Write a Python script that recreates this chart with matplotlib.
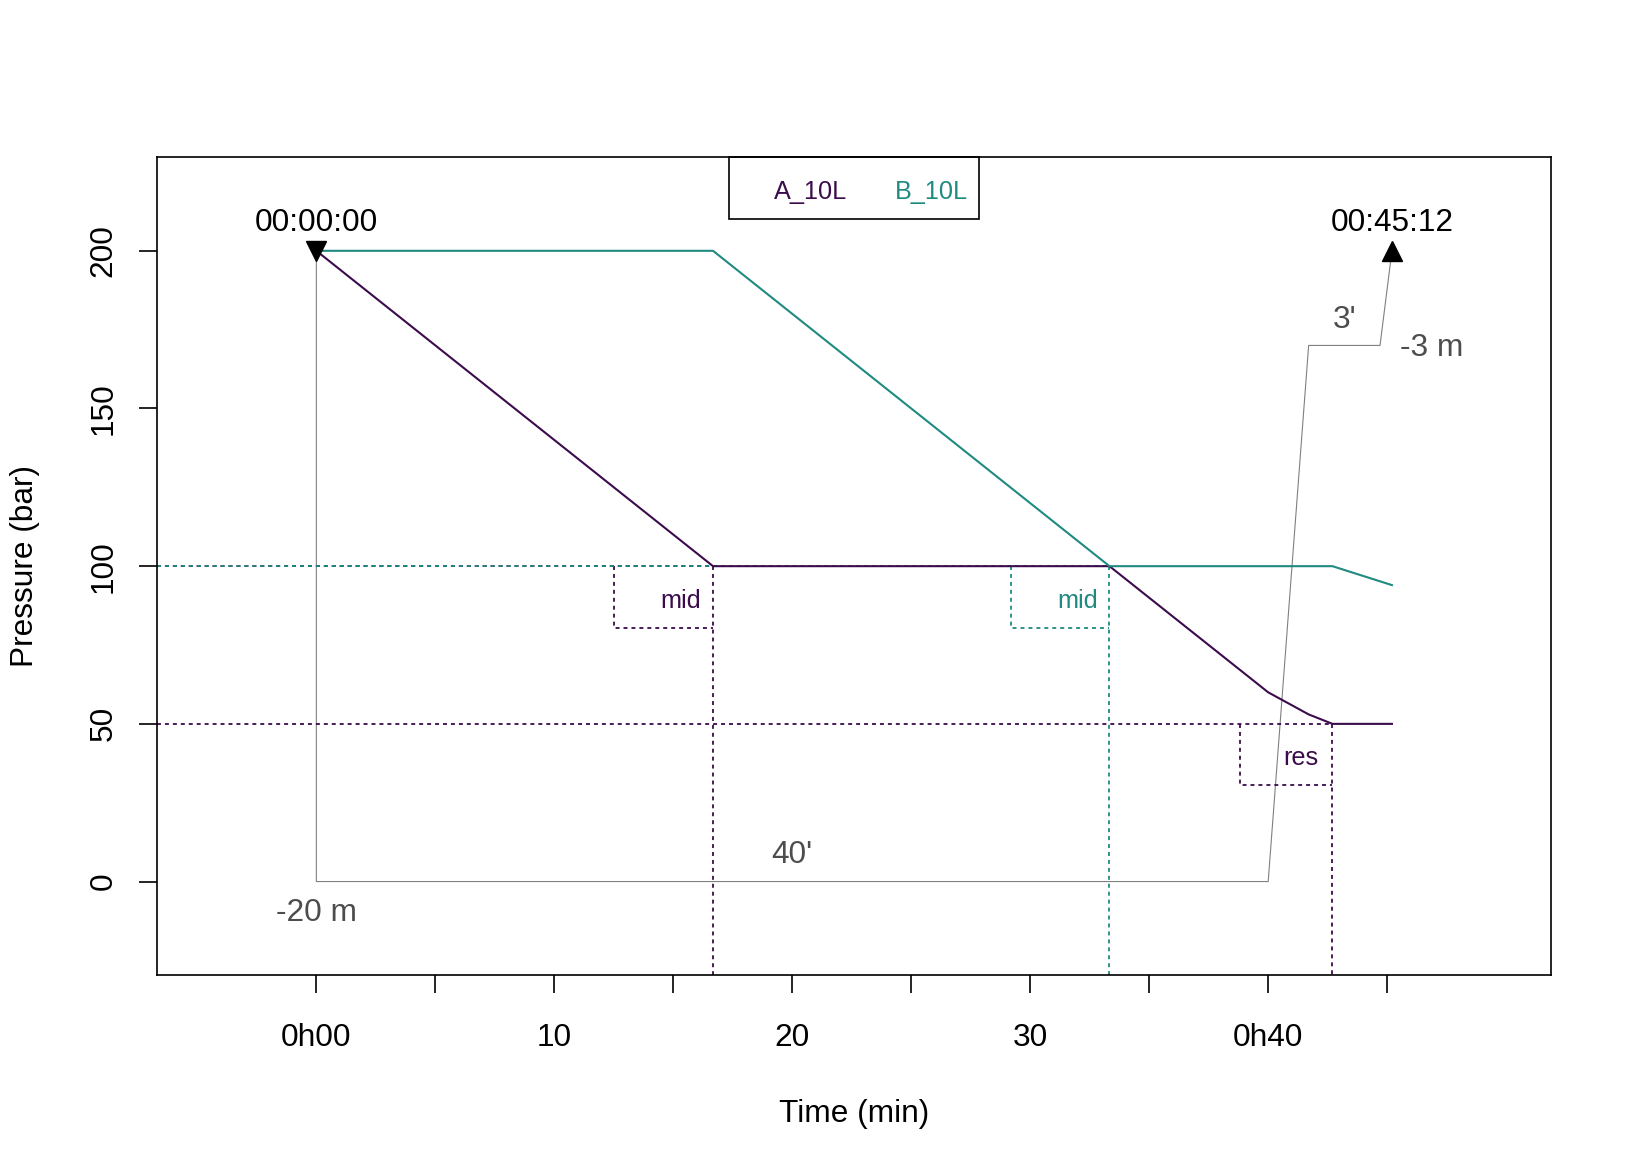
import matplotlib.pyplot as plt
from matplotlib.patches import Rectangle

# cylinder pressure over the dive (bar)
time_a = [0, 16.67, 33.33, 40.0, 41.7, 42.7, 45.2]
pres_a = [200, 100, 100, 60, 53, 50, 50]
time_b = [0, 16.67, 33.33, 42.7, 45.2]
pres_b = [200, 200, 100, 100, 94]

# dive profile (min, m), drawn scaled so 0 m -> 200 bar and -20 m -> 0 bar
prof_t = [0, 0, 40.0, 41.7, 44.7, 45.2]
prof_d = [0, -20, -20, -3, -3, 0]

# switch points: (time, pressure, label, tank, box width in min)
switches = [(16.67, 100, "mid", "A", 4.15), (33.33, 100, "mid", "B", 4.15), (42.7, 50, "res", "A", 3.9)]

tanks = ["A_10L", "B_10L"]
col = {"A": "#3b0b4c", "B": "#1f8a80"}
grey_txt = "#4d4d4d"

xticks = [0, 5, 10, 15, 20, 25, 30, 35, 40, 45]
xlabels = ["0h00", "", "10", "", "20", "", "30", "", "0h40", ""]
yticks = [0, 50, 100, 150, 200]

plt.rcParams["font.family"] = ["Liberation Sans", "DejaVu Sans"]
fs = 22.75

fig = plt.figure(figsize=(16.32, 11.71), dpi=100)
ax = fig.add_axes([0.0963, 0.1672, 0.854, 0.6986])
ax.set_xlim(-6.69, 51.88)
ax.set_ylim(-29.7, 229.7)
x0 = ax.get_xlim()[0]
y0 = ax.get_ylim()[0]
dy = -0.9  # small nudge so text ink sits where base R puts it

# profile
prof_y = [200 + d * 10 for d in prof_d]
ax.plot(prof_t, prof_y, color="#808080", lw=0.8, zorder=2)
ax.text((prof_t[1] + prof_t[2]) / 2, prof_y[1] + 9.2 + dy, "40'", color=grey_txt, fontsize=fs, ha="center", va="center")
ax.text(prof_t[1], prof_y[1] - 9.2 + dy, "%d m" % prof_d[1], color=grey_txt, fontsize=fs, ha="center", va="center")
ax.text((prof_t[3] + prof_t[4]) / 2, prof_y[3] + 9.5 + dy - 0.6, "3'", color=grey_txt, fontsize=fs, ha="center", va="center")
ax.text(prof_t[4] + 2.15, prof_y[4] + dy, "%d m" % prof_d[4], color=grey_txt, fontsize=fs, ha="center", va="center")

# start / end markers
ax.plot(prof_t[0], 200, marker="v", color="black", ms=14, zorder=5)
ax.plot(prof_t[-1], 200, marker="^", color="black", ms=14, zorder=5)
ax.text(prof_t[0], 209.6 + dy, "00:00:00", fontsize=fs, ha="center", va="center")
ax.text(prof_t[-1], 209.6 + dy, "00:45:12", fontsize=fs, ha="center", va="center")

# pressure lines
ax.plot(time_a, pres_a, color=col["A"], lw=1.5, zorder=3)
ax.plot(time_b, pres_b, color=col["B"], lw=1.5, zorder=3)

# switch markers with dotted guides
for t, p, lab, tank, w in switches:
    c = col[tank]
    kw = dict(color=c, lw=1.3, dashes=(2.2, 2.2), zorder=2)
    ax.plot([x0, t], [p, p], **kw)
    ax.plot([t, t], [p, y0], **kw)
    ax.plot([t - w, t - w, t], [p, p - 19.5, p - 19.5], **kw)
    ax.text(t - 1.35, p - 10 + dy, lab, color=c, fontsize=fs * 0.8, ha="center", va="center")

# legend box (text only, like base R legend with no line)
ax.add_patch(Rectangle((0.41, 0.925), 0.18, 0.075, transform=ax.transAxes,
                       fill=False, edgecolor="black", lw=1.2, clip_on=False))
ax.text(0.469, 0.9575, tanks[0], color=col["A"], fontsize=fs * 0.8, ha="center", va="center", transform=ax.transAxes)
ax.text(0.5556, 0.9575, tanks[1], color=col["B"], fontsize=fs * 0.8, ha="center", va="center", transform=ax.transAxes)

ax.set_xticks(xticks)
ax.set_xticklabels(xlabels, fontsize=fs)
ax.set_yticks(yticks)
ax.set_yticklabels([str(v) for v in yticks], fontsize=fs, rotation=90, va="center")
ax.tick_params(axis="x", length=12.7, width=1.2, pad=22)
ax.tick_params(axis="y", length=12.7, width=1.2, pad=15)
for s in ax.spines.values():
    s.set_linewidth(1.2)

fig.text(854 / 1632, 1 - 1114 / 1171, "Time (min)", fontsize=fs, ha="center", va="center")
fig.text(25 / 1632, 1 - 566 / 1171, "Pressure (bar)", fontsize=fs, ha="center", va="center", rotation=90)

plt.savefig("out.png", dpi=100)
